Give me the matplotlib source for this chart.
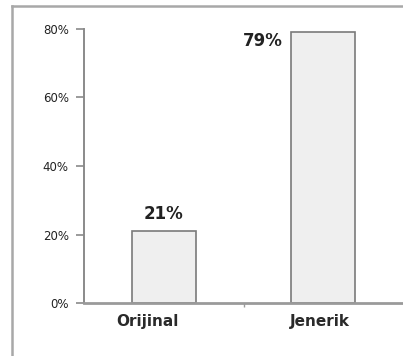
import matplotlib
matplotlib.use("Agg")
import matplotlib.pyplot as plt
from matplotlib.lines import Line2D
from matplotlib.transforms import ScaledTranslation

categories = ["Orijinal", "Jenerik"]
shares = [21, 79]
y_ticks = [0, 20, 40, 60, 80]
y_tick_labels = ["0%", "20%", "40%", "60%", "80%"]

W, H = 403, 356
fig = plt.figure(figsize=(W / 100, H / 100), dpi=100)

# outer frame (left and top edges)
frame_col = "#a8a8a8"
fig.add_artist(Line2D([12 / W, 12 / W], [0, 1 - 6 / H], transform=fig.transFigure,
                      color=frame_col, lw=1.8))
fig.add_artist(Line2D([12 / W, 1], [1 - 6 / H, 1 - 6 / H], transform=fig.transFigure,
                      color=frame_col, lw=1.8))

left = 84 / W
bottom = (H - 303) / H
height = (303 - 29) / H
ax = fig.add_axes([left, bottom, 1 - left, height])

x = list(range(len(categories)))
ax.bar(x, shares, width=0.4, color="#efefef", edgecolor="#7a7a7a", linewidth=1.2, zorder=2)

ax.set_xlim(-0.5, 1.5)
ax.set_ylim(0, 80)

for sp in ["top", "right"]:
    ax.spines[sp].set_visible(False)
ax.spines["left"].set_color("#8a8a8a")
ax.spines["left"].set_linewidth(1.4)
ax.spines["bottom"].set_color("#9a9a9a")
ax.spines["bottom"].set_linewidth(2.0)

ax.set_yticks(y_ticks)
ax.set_yticklabels(y_tick_labels, fontsize=8.5, color="#222222")
ax.tick_params(axis="y", length=6, width=1.2, color="#8a8a8a", pad=5)

ax.set_xticks(x)
ax.set_xticklabels(categories, fontsize=11, fontweight="bold", color="#2a2a2a")
ax.tick_params(axis="x", length=0, pad=8)
ax.set_xticks([0.5], minor=True)
ax.tick_params(axis="x", which="minor", length=3, width=1.0, color="#9a9a9a")

# nudge the category labels sideways
for lbl, dx in zip(ax.get_xticklabels(), [-16, -3]):
    lbl.set_transform(lbl.get_transform() + ScaledTranslation(dx / 100, 0, fig.dpi_scale_trans))

# value labels
ax.text(x[0], shares[0] + 2.5, f"{shares[0]}%", ha="center", va="bottom",
        fontsize=12, fontweight="bold", color="#222222")
ax.text(x[1] - 0.255, shares[1], f"{shares[1]}%", ha="right", va="top",
        fontsize=12, fontweight="bold", color="#222222")

fig.savefig("out.png", dpi=100)
